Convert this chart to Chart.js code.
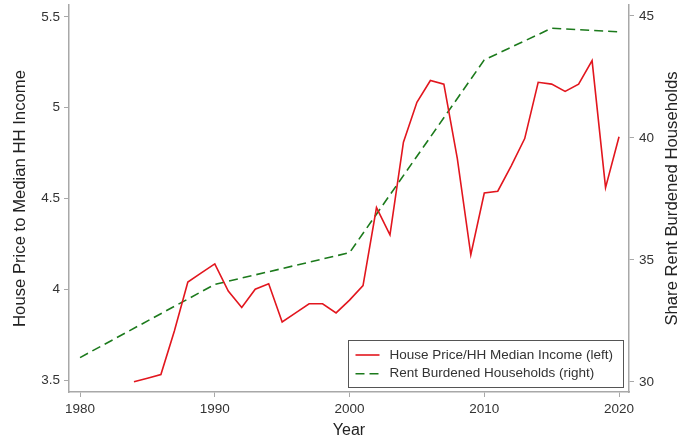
<!DOCTYPE html>
<html>
<head>
<meta charset="utf-8">
<script src="https://cdn.jsdelivr.net/npm/chart.js@4/dist/chart.umd.min.js"></script>
<style>
  body { margin: 0; background: #fff; }
  #wrap { width: 679px; height: 441px; }
</style>
</head>
<body>
<div id="wrap"><canvas id="chart" width="679" height="441"></canvas></div>
<script>
// house price / median HH income, yearly 1984-2020
const priceYears = [1984, 1985, 1986, 1987, 1988, 1989, 1990, 1991, 1992, 1993,
  1994, 1995, 1996, 1997, 1998, 1999, 2000, 2001, 2002, 2003, 2004, 2005, 2006,
  2007, 2008, 2009, 2010, 2011, 2012, 2013, 2014, 2015, 2016, 2017, 2018, 2019, 2020];
const priceRatio = [3.49, 3.51, 3.53, 3.77, 4.04, 4.09, 4.14, 3.99, 3.90, 4.00,
  4.03, 3.82, 3.87, 3.92, 3.92, 3.87, 3.94, 4.02, 4.45, 4.30, 4.81, 5.03, 5.15,
  5.13, 4.72, 4.19, 4.53, 4.54, 4.68, 4.83, 5.14, 5.13, 5.09, 5.13, 5.26, 4.56, 4.84];

// share of rent burdened households (%)
const rentYears = [1980, 1990, 2000, 2010, 2015, 2020];
const rentShare = [31.0, 34.0, 35.3, 43.2, 44.5, 44.35];

// tick labels
const yearTicks = [1980, 1990, 2000, 2010, 2020];
const leftTicks = [3.5, 4, 4.5, 5, 5.5];
const rightTicks = [30, 35, 40, 45];

const FONT = '"Liberation Sans", Arial, sans-serif';
const AXIS_GREY = '#a8a8a8';
const TEXT = '#333';

// fixed axis box sizes, no extra label overhang padding
function fitBox(size) {
  return s => {
    if (s.isHorizontal()) s.height = size; else s.width = size;
    s.paddingTop = 0; s.paddingBottom = 0;
    s.paddingLeft = 0; s.paddingRight = 0;
  };
}

// legend box inside the plot + right axis title reading bottom-to-top
const boxLegend = {
  id: 'boxLegend',
  afterDatasetsDraw(chart) {
    const ctx = chart.ctx;
    const area = chart.chartArea;
    const w = 275, h = 47;
    const x0 = Math.round(area.right - 6 - w) + 0.5;
    const y0 = Math.round(area.bottom - 5 - h) + 0.5;
    ctx.save();
    ctx.fillStyle = '#fff';
    ctx.fillRect(x0, y0, w, h);
    ctx.strokeStyle = '#555';
    ctx.lineWidth = 1;
    ctx.strokeRect(x0, y0, w, h);
    ctx.font = '13.5px ' + FONT;
    ctx.textBaseline = 'middle';
    chart.data.datasets.forEach((ds, i) => {
      const y = y0 + 14.5 + i * 18.7;
      ctx.strokeStyle = ds.borderColor;
      ctx.lineWidth = ds.borderWidth;
      ctx.setLineDash(ds.borderDash || []);
      ctx.beginPath();
      ctx.moveTo(x0 + 7, y);
      ctx.lineTo(x0 + 31, y);
      ctx.stroke();
      ctx.setLineDash([]);
      ctx.fillStyle = TEXT;
      ctx.fillText(ds.label, x0 + 41, y);
    });

    ctx.translate(672, (area.top + area.bottom) / 2);
    ctx.rotate(-Math.PI / 2);
    ctx.font = '16.7px ' + FONT;
    ctx.textAlign = 'center';
    ctx.fillStyle = '#222';
    ctx.fillText('Share Rent Burdened Households', 0, 0);
    ctx.restore();
  }
};

const ctx = document.getElementById('chart').getContext('2d');
new Chart(ctx, {
  type: 'line',
  data: {
    datasets: [{
      label: 'House Price/HH Median Income (left)',
      data: priceYears.map((yr, i) => ({ x: yr, y: priceRatio[i] })),
      borderColor: 'rgb(226, 22, 30)',
      borderWidth: 1.6,
      pointRadius: 0,
      tension: 0,
      yAxisID: 'yLeft'
    }, {
      label: 'Rent Burdened Households (right)',
      data: rentYears.map((yr, i) => ({ x: yr, y: rentShare[i] })),
      borderColor: 'rgb(28, 122, 28)',
      borderWidth: 1.6,
      borderDash: [9, 5],
      pointRadius: 0,
      tension: 0,
      yAxisID: 'yRight'
    }]
  },
  options: {
    responsive: false,
    animation: false,
    layout: { padding: { top: 5 } },
    plugins: {
      legend: { display: false },
      tooltip: { enabled: false }
    },
    scales: {
      x: {
        type: 'linear',
        min: 1979.18,
        max: 2020.74,
        afterBuildTicks: s => { s.ticks = yearTicks.map(v => ({ value: v })); },
        afterFit: fitBox(49),
        ticks: {
          color: TEXT,
          font: { family: FONT, size: 13.5 },
          padding: 4,
          maxRotation: 0,
          callback: v => String(v)
        },
        grid: { drawOnChartArea: false, color: AXIS_GREY, tickLength: 5 },
        border: { color: AXIS_GREY, width: 1.5 },
        title: {
          display: true,
          text: 'Year',
          color: '#222',
          font: { family: FONT, size: 16 },
          padding: { top: 0, bottom: 1 }
        }
      },
      yLeft: {
        position: 'left',
        min: 3.434,
        max: 5.566,
        afterBuildTicks: s => { s.ticks = leftTicks.map(v => ({ value: v })); },
        afterFit: fitBox(69),
        ticks: {
          color: TEXT,
          font: { family: FONT, size: 13.5 },
          padding: 4,
          callback: v => String(v)
        },
        grid: { drawOnChartArea: false, color: AXIS_GREY, tickLength: 5 },
        border: { color: AXIS_GREY, width: 1.5 },
        title: {
          display: true,
          text: 'House Price to Median HH Income',
          color: '#222',
          font: { family: FONT, size: 16.7 },
          padding: { top: 10, bottom: 0 }
        }
      },
      yRight: {
        position: 'right',
        min: 29.59,
        max: 45.45,
        afterBuildTicks: s => { s.ticks = rightTicks.map(v => ({ value: v })); },
        afterFit: fitBox(50),
        ticks: {
          color: TEXT,
          font: { family: FONT, size: 13.5 },
          padding: 5,
          callback: v => String(v)
        },
        grid: { drawOnChartArea: false, color: AXIS_GREY, tickLength: 5 },
        border: { color: AXIS_GREY, width: 1.5 }
      }
    }
  },
  plugins: [boxLegend]
});
</script>
</body>
</html>
